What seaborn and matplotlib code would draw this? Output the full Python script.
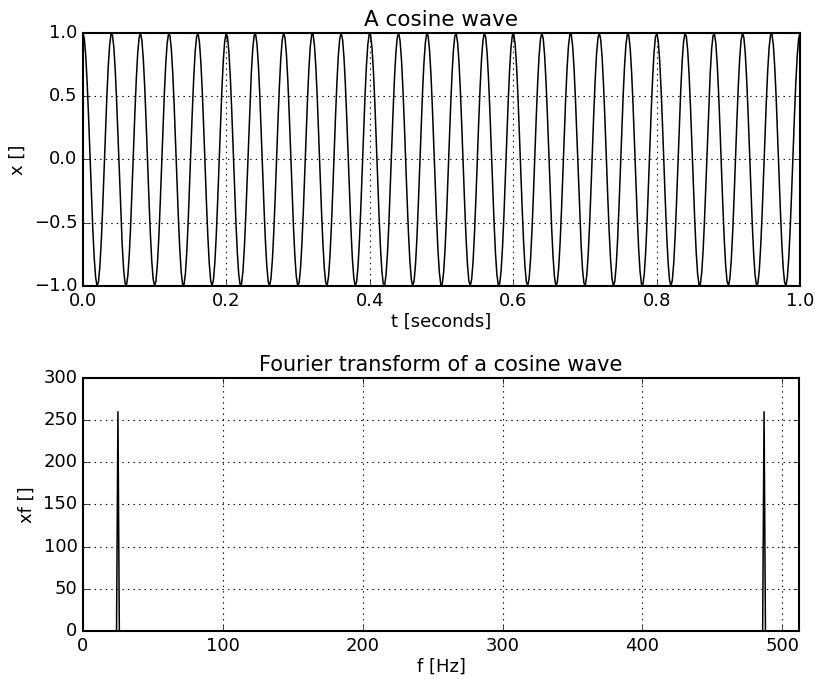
import numpy as np
import matplotlib
matplotlib.use("Agg")
import matplotlib.pyplot as plt
import seaborn as sns

# signal: 25 full periods in 1 s, amplitude 1, 512 samples
signal_freq_hz = 25
signal_amp = 1.0
n_samples = 512

# spectrum: two narrow spikes, rest ~0
spike_bins = [25, 487]
spike_heights = [260, 260]

x_ticks_top = [0.0, 0.2, 0.4, 0.6, 0.8, 1.0]
y_ticks_top = [-1.0, -0.5, 0.0, 0.5, 1.0]
x_ticks_bot = [0, 100, 200, 300, 400, 500]
y_ticks_bot = [0, 50, 100, 150, 200, 250, 300]

plt.style.use("classic")
plt.rcParams["figure.facecolor"] = "white"
plt.rcParams["savefig.facecolor"] = "white"
plt.rcParams["font.family"] = ["DejaVu Sans"]
plt.rcParams["font.size"] = 13
plt.rcParams["xtick.labelsize"] = 13
plt.rcParams["ytick.labelsize"] = 13
plt.rcParams["axes.labelsize"] = 13
plt.rcParams["axes.linewidth"] = 1.5

t = np.linspace(0, 1, n_samples)
x = signal_amp * np.cos(2 * np.pi * signal_freq_hz * t)

freqs = np.arange(n_samples)
xf = np.zeros(n_samples)
xf[spike_bins] = spike_heights

fig = plt.figure(figsize=(8.15, 6.79), dpi=100)
ax1 = fig.add_axes([0.1018, 0.5788, 0.8798, 0.3726])
ax2 = fig.add_axes([0.1018, 0.0707, 0.8786, 0.3726])

# 1. cosine wave
sns.lineplot(x=t, y=x, ax=ax1, color="k", linewidth=1.1)
ax1.set_xlim(0, 1)
ax1.set_ylim(-1, 1)
ax1.set_xticks(x_ticks_top)
ax1.set_yticks(y_ticks_top)
ax1.set_title("A cosine wave", fontsize=15.5)
ax1.set_xlabel("t [seconds]", labelpad=2)
ax1.set_ylabel("x []")
ax1.grid(True, color="k", linestyle=":", linewidth=0.8)

# 2. fourier transform
sns.lineplot(x=freqs, y=xf, ax=ax2, color="k", linewidth=1.1)
ax2.set_xlim(0, 512)
ax2.set_ylim(0, 300)
ax2.set_xticks(x_ticks_bot)
ax2.set_yticks(y_ticks_bot)
ax2.set_title("Fourier transform of a cosine wave", fontsize=15)
ax2.set_xlabel("f [Hz]", labelpad=2)
ax2.set_ylabel("xf []")
ax2.grid(True, color="k", linestyle=":", linewidth=0.8)

fig.savefig("out.png", dpi=100)
